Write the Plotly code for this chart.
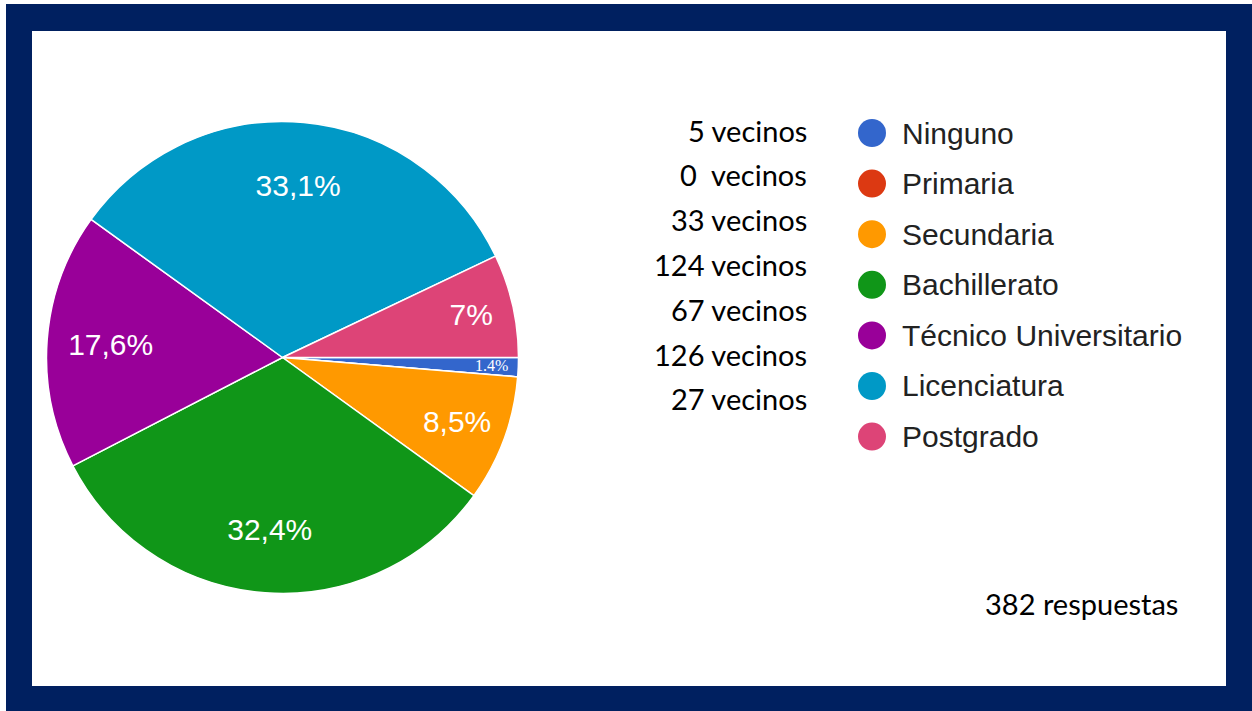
import plotly.graph_objects as go

categories = ["Ninguno", "Primaria", "Secundaria", "Bachillerato",
              "Técnico Universitario", "Licenciatura", "Postgrado"]
counts = [5, 0, 33, 124, 67, 126, 27]
count_labels = ["5 vecinos", "0\u00a0 vecinos", "33 vecinos", "124 vecinos",
                "67 vecinos", "126 vecinos", "27 vecinos"]
pct_labels = ["1.4%", "", "8,5%", "32,4%", "17,6%", "33,1%", "7%"]
colors = ["#3366CC", "#DC3912", "#FF9900", "#109618", "#990099", "#0099C6", "#DD4477"]
total_label = "382 respuestas"

W, H = 1252, 711


def px(x):
    return x / W


def py(y):
    return 1 - y / H


cx, cy, R = 282.5, 357.5, 236
dom = dict(x=[px(cx - R), px(cx + R)], y=[py(cy + R), py(cy - R)])

fig = go.Figure()
# coloured slices
fig.add_trace(go.Pie(
    labels=categories,
    values=counts,
    textinfo="none",
    sort=False,
    direction="clockwise",
    rotation=90,
    marker=dict(colors=colors, line=dict(color="white", width=1.5)),
    showlegend=False,
    hoverinfo="skip",
    domain=dom,
))
# transparent ring that carries the percentage labels further out
fig.add_trace(go.Pie(
    labels=categories,
    values=counts,
    text=pct_labels,
    textinfo="text",
    textposition=["none", "none", "inside", "inside", "inside", "inside", "inside"],
    insidetextorientation="horizontal",
    textfont=dict(family="Liberation Sans, Arial, sans-serif", size=30, color="white"),
    sort=False,
    direction="clockwise",
    rotation=90,
    hole=0.46,
    marker=dict(colors=["rgba(0,0,0,0)"] * len(categories), line=dict(width=0)),
    showlegend=False,
    hoverinfo="skip",
    domain=dom,
))

shapes = [
    dict(type="rect", xref="paper", yref="paper", x0=px(6), x1=1, y0=0, y1=py(4),
         fillcolor="#002060", line=dict(width=0), layer="below"),
    dict(type="rect", xref="paper", yref="paper", x0=px(32), x1=px(1226), y0=py(686), y1=py(31),
         fillcolor="white", line=dict(width=0), layer="below"),
]
annotations = []

# custom legend (Google Forms style)
for i, (cat, col) in enumerate(zip(categories, colors)):
    yc = 133 + i * 50.6
    shapes.append(dict(type="circle", xref="paper", yref="paper",
                       x0=px(858), x1=px(886), y0=py(yc + 14), y1=py(yc - 14),
                       fillcolor=col, line=dict(width=0)))
    annotations.append(dict(text=cat, x=px(900), y=py(yc), xref="paper", yref="paper",
                            xanchor="left", yanchor="middle", showarrow=False,
                            font=dict(family="Liberation Sans, Arial, sans-serif", size=30, color="#222222")))

# counts column
for i, lab in enumerate(count_labels):
    yc = 130 + i * 44.8
    annotations.append(dict(text=lab, x=px(809), y=py(yc), xref="paper", yref="paper",
                            xanchor="right", yanchor="middle", showarrow=False,
                            font=dict(family="Lato, sans-serif", size=29, color="black")))

# small slice label
annotations.append(dict(text=pct_labels[0], x=px(491), y=py(365), xref="paper", yref="paper",
                        xanchor="center", yanchor="middle", showarrow=False,
                        font=dict(family="Liberation Serif, serif", size=16, color="white")))

# total
annotations.append(dict(text=total_label, x=px(983), y=py(603), xref="paper", yref="paper",
                        xanchor="left", yanchor="middle", showarrow=False,
                        font=dict(family="Lato, sans-serif", size=29, color="black")))

fig.update_layout(
    width=W, height=H,
    margin=dict(l=0, r=0, t=0, b=0),
    paper_bgcolor="white",
    plot_bgcolor="white",
    shapes=shapes,
    annotations=annotations,
)

fig.write_html("out.html", config={"displayModeBar": False},
               post_script="document.body.style.margin='0';document.body.style.overflow='hidden';")
